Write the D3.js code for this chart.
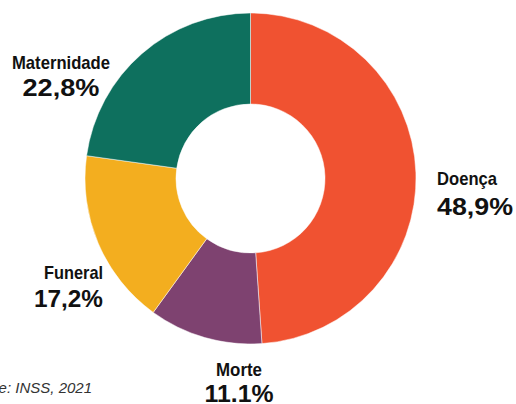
<!DOCTYPE html>
<html>
<head>
<meta charset="utf-8">
<script src="https://cdn.jsdelivr.net/npm/d3@7"></script>
<style>
  html, body { margin: 0; padding: 0; background: #fff; }
  svg { display: block; }
</style>
</head>
<body>
<svg id="chart" width="516" height="404"></svg>
<script>
// Benefit categories, clockwise from 12 o'clock
const categories = ["Doença", "Morte", "Funeral", "Maternidade"];
const values = [48.9, 11.1, 17.2, 22.8];
const pctLabels = ["48,9%", "11.1%", "17,2%", "22,8%"];
const colors = ["#F05231", "#7E4270", "#F3AE1F", "#0E705E"];

const svg = d3.select("#chart");
const cx = 250.5, cy = 178.5, rOuter = 165.5, rInner = 74.5;

const pie = d3.pie().sort(null).value(d => d.value);
const arcs = pie(categories.map((c, i) => ({ name: c, value: values[i], label: pctLabels[i], color: colors[i] })));
const arc = d3.arc().innerRadius(rInner).outerRadius(rOuter);

const g = svg.append("g").attr("transform", `translate(${cx},${cy})`);
g.selectAll("path")
  .data(arcs)
  .join("path")
  .attr("d", arc)
  .attr("fill", d => d.data.color)
  .attr("stroke", "#ffffff")
  .attr("stroke-width", 0.5);

// Label placement per slice: x, name baseline, percent baseline, anchor,
// condensed name width, percent width
const labelPos = {
  "Doença":      [437, 185, 215, "start",  60, 76],
  "Morte":       [239, 376, 402, "middle", 46, 69],
  "Funeral":     [103, 279, 307, "end",    59, 69],
  "Maternidade": [61,  69,  96,  "middle", 98, 77]
};

const labels = svg.append("g");
arcs.forEach(d => {
  const [x, y1, y2, anchor, w1, w2] = labelPos[d.data.name];
  labels.append("text")
    .attr("x", x).attr("y", y1)
    .attr("text-anchor", anchor)
    .attr("font-family", "'Liberation Sans', Arial, sans-serif")
    .attr("font-weight", "bold")
    .attr("font-size", 19)
    .attr("textLength", w1)
    .attr("lengthAdjust", "spacingAndGlyphs")
    .attr("fill", "#111")
    .text(d.data.name);
  labels.append("text")
    .attr("x", x).attr("y", y2)
    .attr("text-anchor", anchor)
    .attr("font-family", "'Liberation Sans', Arial, sans-serif")
    .attr("font-weight", "bold")
    .attr("font-size", 24)
    .attr("textLength", w2)
    .attr("lengthAdjust", "spacingAndGlyphs")
    .attr("fill", "#111")
    .text(d.data.label);
});

// Source note
svg.append("text")
  .attr("x", 92).attr("y", 393)
  .attr("text-anchor", "end")
  .attr("font-family", "'Liberation Sans', sans-serif")
  .attr("font-style", "italic")
  .attr("font-size", 15)
  .attr("fill", "#333")
  .text("Fonte: INSS, 2021");
</script>
</body>
</html>
